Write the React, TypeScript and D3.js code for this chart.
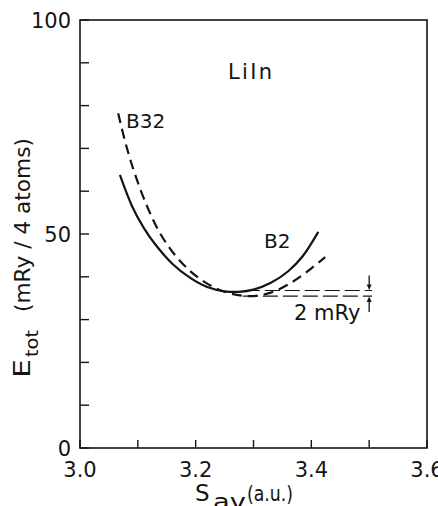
import React from "react";
import * as d3 from "d3";

const b2S = [3.069, 3.09, 3.11, 3.13, 3.16, 3.19, 3.22, 3.25, 3.275, 3.3, 3.33, 3.36, 3.385, 3.412];
const b2E = [63.8, 56.5, 51.5, 47.6, 43.0, 39.8, 37.6, 36.6, 36.5, 37.0, 38.6, 41.3, 44.8, 50.5];
const b32S = [3.066, 3.08, 3.095, 3.115, 3.135, 3.16, 3.19, 3.22, 3.25, 3.28, 3.3, 3.33, 3.36, 3.39, 3.424];
const b32E = [78.2, 70.6, 64.0, 56.8, 51.0, 45.8, 41.4, 38.4, 36.5, 35.6, 35.5, 36.3, 38.2, 40.9, 44.6];
const refUpperE = 36.8;
const refLowerE = 35.5;
const refStartS = 3.285;
const refEndS = 3.505;
const arrowS = 3.5;
const xTicks = [3.0, 3.1, 3.2, 3.3, 3.4, 3.5, 3.6];
const xTickLabels = ["3.0", "", "3.2", "", "3.4", "", "3.6"];
const yTicks = [0, 10, 20, 30, 40, 50, 60, 70, 80, 90, 100];
const yTickLabels = ["0", "", "", "", "", "50", "", "", "", "", "100"];

const W = 438;
const H = 506;
const FONT = "DejaVu Sans";
const INK = "#141414";

export default function App() {
  const x = d3.scaleLinear().domain([3.0, 3.6]).range([80, 427]);
  const y = d3.scaleLinear().domain([0, 100]).range([448, 20]);
  const line = d3
    .line<[number, number]>()
    .x((d) => x(d[0]))
    .y((d) => y(d[1]))
    .curve(d3.curveCatmullRom.alpha(0.5));
  const b2 = b2S.map((s, i) => [s, b2E[i]] as [number, number]);
  const b32 = b32S.map((s, i) => [s, b32E[i]] as [number, number]);
  const ax = x(arrowS);
  const yu = y(refUpperE);
  const yl = y(refLowerE);

  return (
    <svg width={W} height={H} style={{ position: "absolute", left: 0, top: 0, background: "#fff" }}>
      <rect x={0} y={0} width={W} height={H} fill="#fff" />
      {/* frame */}
      <rect x={x(3.0)} y={y(100)} width={x(3.6) - x(3.0)} height={y(0) - y(100)} fill="none" stroke={INK} strokeWidth={1.6} />
      {/* y ticks */}
      {yTicks.map((t, i) => (
        <g key={"y" + i}>
          <line x1={x(3.0)} x2={x(3.0) + 9} y1={y(t)} y2={y(t)} stroke={INK} strokeWidth={1.4} />
          {yTickLabels[i] && (
            <text x={71} y={y(t) + 7.5} textAnchor="end" fontFamily={FONT} fontSize={21} fill={INK}>
              {yTickLabels[i]}
            </text>
          )}
        </g>
      ))}
      {/* x ticks */}
      {xTicks.map((t, i) => (
        <g key={"x" + i}>
          <line x1={x(t)} x2={x(t)} y1={y(0)} y2={y(0) - 8} stroke={INK} strokeWidth={1.4} />
          {xTickLabels[i] && (
            <text x={x(t)} y={477} textAnchor="middle" fontFamily={FONT} fontSize={21} fill={INK}>
              {xTickLabels[i]}
            </text>
          )}
        </g>
      ))}
      {/* y axis title */}
      <g transform="translate(30,378) rotate(-90)">
        <text x={0} y={0} fontFamily={FONT} fontSize={23} fill={INK} textLength={19} lengthAdjust="spacingAndGlyphs">E</text>
        <text x={21} y={8} fontFamily={FONT} fontSize={18} fill={INK} textLength={27} lengthAdjust="spacingAndGlyphs">tot</text>
        <text x={66} y={0} fontFamily={FONT} fontSize={22} fill={INK} textLength={174} lengthAdjust="spacingAndGlyphs">(mRy / 4 atoms)</text>
      </g>
      {/* x axis title */}
      <text x={195} y={501} fontFamily={FONT} fontSize={23} fill={INK}>S</text>
      <text x={213} y={509} fontFamily={FONT} fontSize={21} fill={INK} textLength={33} lengthAdjust="spacingAndGlyphs">av</text>
      <text x={247} y={501} fontFamily={FONT} fontSize={21} fill={INK} textLength={46} lengthAdjust="spacingAndGlyphs">(a.u.)</text>
      {/* curves */}
      <path d={line(b2) || ""} fill="none" stroke={INK} strokeWidth={2.2} />
      <path d={line(b32) || ""} fill="none" stroke={INK} strokeWidth={2.2} strokeDasharray="10 6" />
      {/* reference lines */}
      <line x1={x(refStartS)} x2={x(refEndS)} y1={yu} y2={yu} stroke={INK} strokeWidth={1.2} strokeDasharray="15 5" />
      <line x1={x(refStartS) - 2} x2={x(refEndS)} y1={yl} y2={yl} stroke={INK} strokeWidth={1.2} strokeDasharray="15 5" />
      {/* arrows */}
      <line x1={ax} x2={ax} y1={yu - 15} y2={yu - 4} stroke={INK} strokeWidth={1.3} />
      <path d={`M${ax - 2.5},${yu - 6} L${ax + 2.5},${yu - 6} L${ax},${yu - 0.5} Z`} fill={INK} />
      <line x1={ax} x2={ax} y1={yl + 16} y2={yl + 4} stroke={INK} strokeWidth={1.3} />
      <path d={`M${ax - 2.5},${yl + 6} L${ax + 2.5},${yl + 6} L${ax},${yl + 0.5} Z`} fill={INK} />
      {/* labels */}
      <text x={228} y={79} fontFamily={FONT} fontSize={21} fill={INK} textLength={44}>LiIn</text>
      <text x={126} y={128} fontFamily={FONT} fontSize={20} fill={INK}>B32</text>
      <text x={264} y={248} fontFamily={FONT} fontSize={20} fill={INK}>B2</text>
      <text x={294} y={320} fontFamily={FONT} fontSize={21} fill={INK}>2 mRy</text>
    </svg>
  );
}
